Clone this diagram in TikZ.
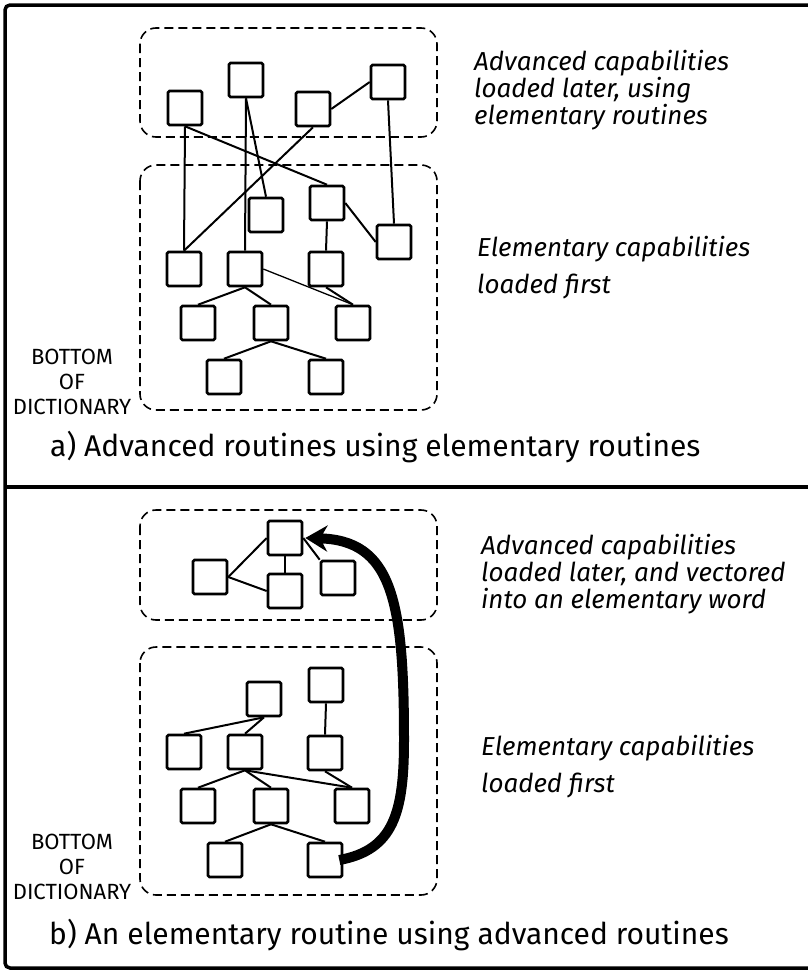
\documentclass[tikz,border=0pt]{standalone}
\usepackage{fontspec}
\setmainfont{Fira Sans}
\usetikzlibrary{arrows.meta,calc}

\begin{document}
\begin{tikzpicture}[x=1pt,y=-1pt,
    wbox/.style={draw,fill=white,line width=2.6pt,minimum size=34pt,inner sep=0pt,rounded corners=1.5pt},
    grp/.style={draw,dashed,line width=1.6pt,dash pattern=on 9pt off 5pt,rounded corners=16pt},
    lnk/.style={draw,line width=2pt},
    note/.style={font=\itshape\fontsize{26}{27}\selectfont,align=left,inner sep=0pt},
    botlbl/.style={font=\fontsize{22}{25}\selectfont,align=center,inner sep=0pt},
    captxt/.style={font=\fontsize{30}{32}\selectfont,inner sep=0pt}]
    \useasboundingbox(0,0)rectangle(808,972);
    %枠
    \path[draw,line width=3.5pt,rounded corners=5pt](812,5)--(5,5)--(5,968)--(812,968);
    \path[draw,line width=4.5pt](5,487)--(812,487);
    %%%% a)
    \path[grp](140,28)rectangle(437,137);
    \path[grp](140,165)rectangle(437,410);
    %上の語
    \node[wbox](a1)at(185,108){};
    \node[wbox](a2)at(246,80){};
    \node[wbox](a3)at(313,109){};
    \node[wbox](a4)at(388,82){};
    %下の語
    \node[wbox](e1)at(266,215){};
    \node[wbox](e2)at(327,203){};
    \node[wbox](e3)at(394,242){};
    \node[wbox](f1)at(184,269){};
    \node[wbox](f2)at(245,269){};
    \node[wbox](f3)at(326,269){};
    \node[wbox](g1)at(198,323){};
    \node[wbox](g2)at(271,323){};
    \node[wbox](g3)at(353,323){};
    \node[wbox](h1)at(224,377){};
    \node[wbox](h2)at(326,377){};
    %上から下へ
    \path[lnk](a1.south)to(e2.north);
    \path[lnk](a1.south)to(f1.north);
    \path[lnk](a2.south)to(f2.north);
    \path[lnk](a2.south)to(e1.north);
    \path[lnk](a4.west)to(a3.east);
    \path[lnk](a3.south)to(f1.north);
    \path[lnk](a4.south)to(e3.north);
    %下の中
    \path[lnk](e2.east)to(e3.west);
    \path[lnk](e2.south)to(f3.north);
    \path[draw,line width=1.3pt](f2.east)to(g3.north);
    \path[lnk](f3.south)to(g3.north);
    \path[lnk](f2.south)to(g1.north);
    \path[lnk](f2.south)to(g2.north);
    \path[lnk](g2.south)to(h1.north);
    \path[lnk](g2.south)to(h2.north);
    %文字
    \node[note,anchor=west](advA)at(474,90){Advanced capabilities\\loaded later, using\\elementary routines};
    \node[note,anchor=west](elemA)at(477,268){Elementary capabilities\\[10pt]loaded first};
    \node[botlbl](botA)at(72,382){BOTTOM\\OF\\DICTIONARY};
    \node[captxt,anchor=west](capA)at(50,447){a) Advanced routines using elementary routines};
    %%%% b)
    \path[grp](140,510)rectangle(437,620);
    \path[grp](140,647)rectangle(437,895);
    %上の語
    \node[wbox](p1)at(285,538){};
    \node[wbox](p2)at(210,577){};
    \node[wbox](p3)at(285,591){};
    \node[wbox](p4)at(338,578){};
    %下の語
    \node[wbox](q1)at(264,699){};
    \node[wbox](q2)at(326,685){};
    \node[wbox](r1)at(184,752){};
    \node[wbox](r2)at(245,752){};
    \node[wbox](r3)at(325,753){};
    \node[wbox](s1)at(198,806){};
    \node[wbox](s2)at(271,806){};
    \node[wbox](s3)at(352,806){};
    \node[wbox](t1)at(225,860){};
    \node[wbox](t2)at(325,860){};
    %上の中
    \path[lnk](p2.east)to(p1.west);
    \path[lnk](p2.east)to(p3.west);
    \path[lnk](p1.south)to(p3.north);
    \path[lnk](p1.east)to(p4.north west);
    %下の中
    \path[lnk](q1.south)to(r1.north);
    \path[lnk](q1.south)to(r2.north);
    \path[lnk](q2.south)to(r3.north);
    \path[lnk](r2.south)to(s1.north);
    \path[lnk](r2.south)to(s2.north);
    \path[lnk](r2.south)to(s3.north);
    \path[lnk](r3.south)to(s3.north);
    \path[lnk](s2.south)to(t1.north);
    \path[lnk](s2.south)to(t2.north);
    %ベクタ
    \coordinate(vtail)at([xshift=-4pt]t2.east);
    \coordinate(vmid)at(404,740);
    \path[draw,line width=10pt,-{Stealth[length=22pt,width=26pt]}](vtail)
        ..controls(394,850)and(404,812)..(vmid)
        ..controls(404,600)and(392,540)..([xshift=2pt]p1.east);
    %文字
    \node[note,anchor=west](advB)at(481,574){Advanced capabilities\\loaded later, and vectored\\into an elementary word};
    \node[note,anchor=west](elemB)at(481,767){Elementary capabilities\\[10pt]loaded first};
    \node[botlbl](botB)at(72,867){BOTTOM\\OF\\DICTIONARY};
    \node[captxt,anchor=west](capB)at(49,935){b) An elementary routine using advanced routines};
\end{tikzpicture}
\end{document}
